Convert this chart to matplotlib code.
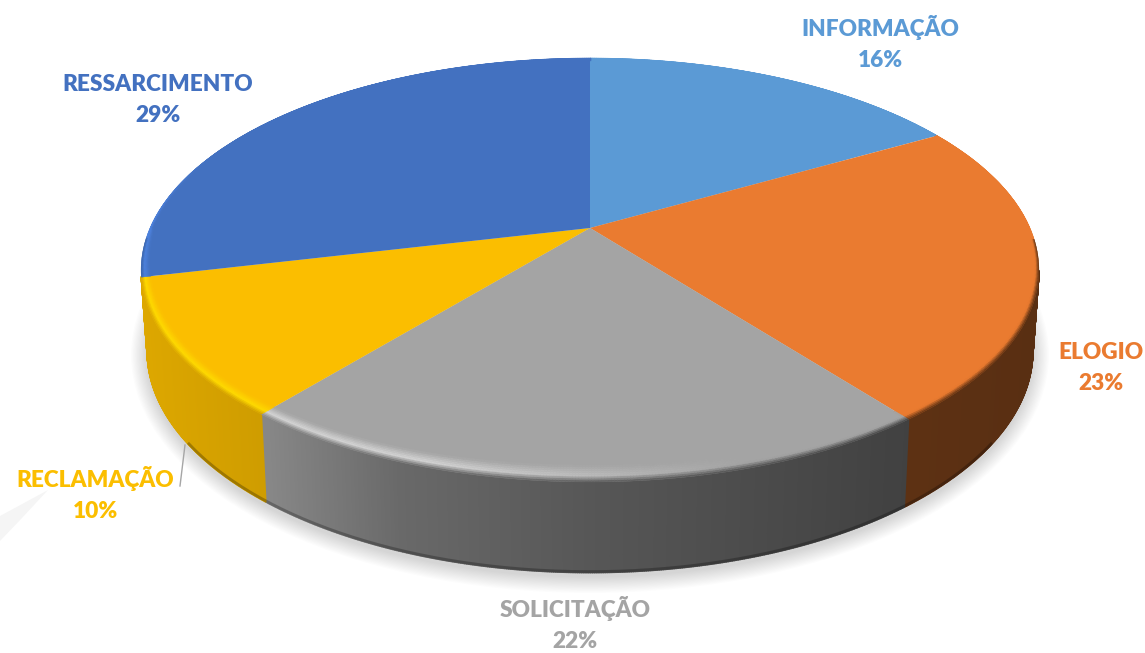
import numpy as np
import matplotlib
matplotlib.use('Agg')
import matplotlib.pyplot as plt
from matplotlib.collections import PolyCollection
from matplotlib.patches import Ellipse

# Chart data ==============
names       = ['INFORMAÇÃO', 'ELOGIO', 'SOLICITAÇÃO', 'RECLAMAÇÃO', 'RESSARCIMENTO']
pct_labels  = ['16%', '23%', '22%', '10%', '29%']
slice_sizes = [16.7, 22.85, 21.35, 10.4, 28.7]  # measured on the picture (printed % are rounded)
colors      = ['#5B9AD5', '#EA7B30', '#A4A4A4', '#FBBE00', '#4371C0']
bevel_gain  = [1.0, 1.0, 1.3, 1.15, 1.15]
has_wall    = [False, True, True, True, False]  # the others have their wall hidden behind the top face
label_pos   = [(880, 43), (1101, 368), (575, 624), (95, 494), (158, 100)]

# Perspective of the disc, in image pixels
cx, k       = 590, 0.198
top_disc    = dict(y0=228, a=203.7, b=440)
low_disc    = dict(y0=307, a=213.0, b=434)
wall_x      = [140, 270, 400, 590, 900, 1040]
wall_shade  = [0.88, 0.82, 0.64, 0.53, 0.40, 0.38]


def project(theta, disc, r=1.0):
    """Angle clockwise from the top of the disc to image pixels."""
    X = r*np.sin(theta)
    Y = r*np.cos(theta)
    w = 1 + k*Y
    return cx + disc['b']*X/w, disc['y0'] - disc['a']*Y/w


def rgb(col):
    return np.array(matplotlib.colors.to_rgb(col))


fig = plt.figure(figsize=(11.45, 6.53), dpi=100)
ax = fig.add_axes([0, 0, 1, 1])
ax.set_xlim(0, 1145)
ax.set_ylim(653, 0)
ax.axis('off')

# Faint smear in the lower left corner of the source
ax.fill([48, 0, 0, 22], [490, 516, 541, 518], color='#F5F5F5', lw=0, zorder=0)

# Soft shadow below the pie
for grow in np.arange(16, 0, -1.2):
    ax.add_patch(Ellipse((590, 355), 2*(443 + grow), 2*(222 + grow), fc='k', ec='none', alpha=0.012, zorder=1))

edges = 2*np.pi*np.concatenate([[0], np.cumsum(slice_sizes)])/np.sum(slice_sizes)

# Side wall, horizontal shading
for i, col in enumerate(colors):
    if not has_wall[i]:
        continue
    th = np.arange(edges[i], edges[i + 1] + 0.004, 0.004)
    th = th[np.cos(th) < -k]
    xt, yt = project(th, top_disc)
    xb, yb = project(th, low_disc)
    quads, fcs = [], []
    for j in range(len(th) - 1):
        quads.append([(xt[j], yt[j]), (xt[j + 1], yt[j + 1]), (xb[j + 1], yb[j + 1]), (xb[j], yb[j])])
        fcs.append(rgb(col)*np.interp(xt[j], wall_x, wall_shade))
    ax.add_collection(PolyCollection(quads, facecolors=fcs, edgecolors=fcs, linewidths=1.2, zorder=2))

# Darker line on the bottom edge of the wall
th = np.linspace(np.radians(125), np.radians(235), 200)
xb, yb = project(th, low_disc)
ax.plot(xb, yb - 1, color='k', alpha=0.25, lw=2, zorder=3)

# Top face
for i, col in enumerate(colors):
    th = np.linspace(edges[i], edges[i + 1], 200)
    xt, yt = project(th, top_disc)
    xa, ya = project(np.array([0.0]), top_disc, r=0)
    ax.fill(np.r_[xa, xt], np.r_[ya, yt], color=col, lw=0, zorder=4)

# Bevel band along the rim
levels = np.linspace(0, 1, 10)
for i, col in enumerate(colors):
    F = rgb(col)
    th = np.arange(edges[i], edges[i + 1] + 0.006, 0.006)
    xt, yt = project(th, top_disc)
    xa, ya = project(np.array([0.0]), top_disc, r=0)
    ux, uy = xa - xt, ya - yt
    n = np.hypot(ux, uy)
    ux, uy = ux/n, uy/n
    Y = np.cos(th)
    X = np.sin(th)
    h = 3 + 14*np.sqrt(np.maximum(0, -Y))
    quads, fcs = [], []
    for j in range(len(th) - 1):
        hl = np.clip((0.3 - X[j])/0.6, 0, 1)*np.clip(1 - 2.5*Y[j], 0, 1)
        P = np.clip(F*(1 + (bevel_gain[i] - 1)*hl), 0, 1)
        W = F*np.interp(xt[j], wall_x, wall_shade)
        E = W if Y[j] < -0.05 else P
        for t0, t1 in zip(levels[:-1], levels[1:]):
            tm = 0.5*(t0 + t1)
            if tm < 0.4:
                c = E + (P - E)*tm/0.4
            else:
                c = P + (F - P)*(tm - 0.4)/0.6
            quads.append([(xt[j] + t0*h[j]*ux[j], yt[j] + t0*h[j]*uy[j]),
                          (xt[j + 1] + t0*h[j + 1]*ux[j + 1], yt[j + 1] + t0*h[j + 1]*uy[j + 1]),
                          (xt[j + 1] + t1*h[j + 1]*ux[j + 1], yt[j + 1] + t1*h[j + 1]*uy[j + 1]),
                          (xt[j] + t1*h[j]*ux[j], yt[j] + t1*h[j]*uy[j])])
            fcs.append(c)
    ax.add_collection(PolyCollection(quads, facecolors=fcs, edgecolors=fcs, linewidths=0.3, zorder=5))

# Labels
for name, pct, col, (lx, ly) in zip(names, pct_labels, colors, label_pos):
    ax.text(lx, ly, f'{name}\n{pct}', color=col, family='Lato', weight='heavy', fontsize=16.3,
            ha='center', va='center', linespacing=1.62, zorder=6)

# Leader line of RECLAMAÇÃO
ax.plot([185, 180], [445, 486], color='#A6A6A6', lw=1, zorder=3)

fig.savefig('out.png', dpi=100)
